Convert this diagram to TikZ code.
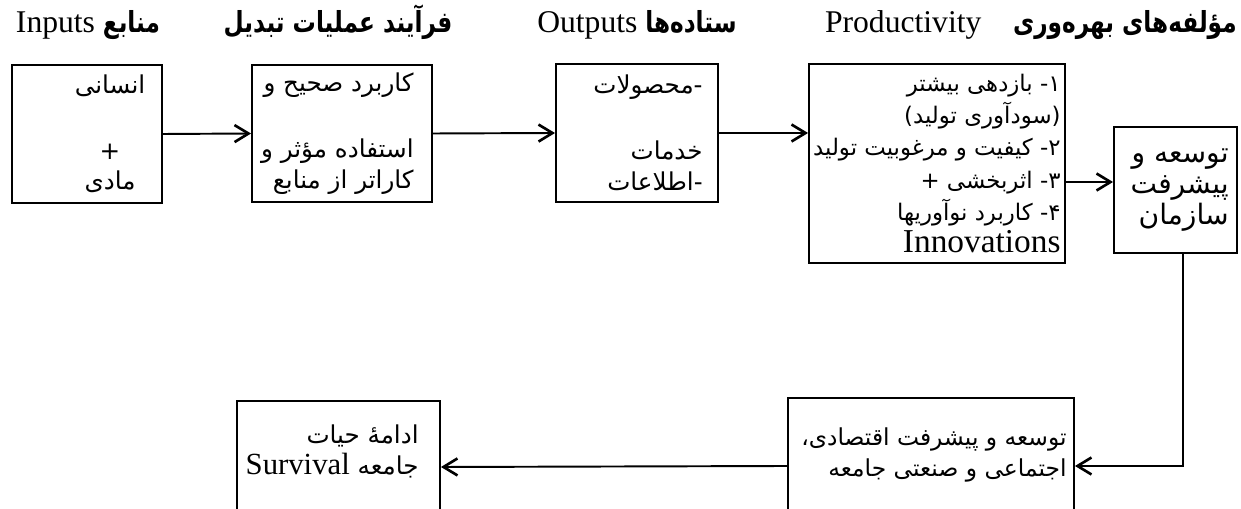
\documentclass[tikz,border=0pt]{standalone}
\usepackage{fontspec}
\setmainfont{Liberation Serif}
\newfontfamily\farsi[Script=Arabic]{DejaVu Sans}
\newfontfamily\farsihead[Script=Arabic, FakeStretch=0.8]{DejaVu Sans Bold}
\TeXXeTstate=1
\usetikzlibrary{arrows.meta,positioning}
\newcommand{\rl}[1]{\beginR #1\endR}
\newcommand{\hfa}[1]{{\farsihead\fontsize{16.5}{18}\selectfont #1}}

\begin{document}
\begin{tikzpicture}[x=0.02cm, y=-0.02cm,
  box/.style={draw, line width=1.1pt, inner sep=0pt},
  body/.style={inner sep=0pt, align=right, font=\farsi\fontsize{14}{17.5}\selectfont},
  head/.style={inner sep=0pt, anchor=base, font=\fontsize{18}{20}\selectfont},
  conn/.style={line width=1.1pt, -{Straight Barb[length=0.28cm, width=0.34cm, line width=1.5pt]}}]
\clip (0,0) rectangle (1241,509);
% headings
\node[head] (h1) at (88,33) {\rl{\hfa{منابع} \beginL Inputs\endL}};
\node[head] (h2) at (338,33) {\rl{\hfa{فرآیند عملیات تبدیل}}};
\node[head] (h3) at (637,33) {\rl{\hfa{ستاده‌ها} \beginL Outputs\endL}};
\node[head, anchor=base east] (h4) at (1237,33) {\rl{\hfa{مؤلفه‌های بهره‌وری}\quad\beginL Productivity\endL}};
% boxes
\node[box, minimum width=3cm, minimum height=2.76cm] (inp) at (87,134) {};
\node[box, minimum width=3.6cm, minimum height=2.74cm] (proc) at (342,133.5) {};
\node[box, minimum width=3.24cm, minimum height=2.76cm] (outp) at (637,133) {};
\node[box, minimum width=5.12cm, minimum height=3.98cm] (prod) at (937,163.5) {};
\node[box, minimum width=2.46cm, minimum height=2.52cm] (org) at (1175.5,190) {};
\node[box, minimum width=5.72cm, minimum height=2.28cm] (soc) at (931,455) {};
\node[box, minimum width=4.06cm, minimum height=2.24cm] (surv) at (338.5,457) {};
% box texts
\node[body, align=center] (inpT) at ([xshift=0.46cm]inp.center) {\rl{انسانی}\\[0.7cm] +\\ \rl{مادی}};
\node[body, anchor=east] (procT) at ([xshift=-0.38cm]proc.east) {\rl{کاربرد صحیح و}\\[0.7cm] \rl{استفاده مؤثر و}\\ \rl{کاراتر از منابع}};
\node[body, anchor=east] (outpT) at ([xshift=-0.32cm]outp.east) {\rl{-محصولات}\\[0.7cm] \rl{خدمات}\\ \rl{-اطلاعات}};
\node[body, anchor=east, font=\farsi\fontsize{13}{18.3}\selectfont] (prodT) at ([xshift=-0.1cm]prod.east) {\rl{۱- بازدهی بیشتر}\\ \rl{(سودآوری تولید)}\\ \rl{۲- کیفیت و مرغوبیت تولید}\\ \rl{۳- اثربخشی +}\\ \rl{۴- کاربرد نوآوریها}\\ {\rmfamily\fontsize{19}{18}\selectfont Innovations}};
\node[body, anchor=east, font=\farsi\fontsize{16}{17.5}\selectfont] (orgT) at ([xshift=-0.18cm]org.east) {\rl{توسعه و}\\ \rl{پیشرفت}\\ \rl{سازمان}};
\node[body, anchor=east, font=\farsi\fontsize{13.3}{17.5}\selectfont] (socT) at ([xshift=-0.16cm]soc.east) {\rl{توسعه و پیشرفت اقتصادی،}\\ \rl{اجتماعی و صنعتی جامعه}};
\node[body, anchor=east] (survT) at ([xshift=-0.44cm, yshift=0.11cm]surv.east) {\rl{ادامهٔ حیات}\\ \rl{جامعه \beginL{\rmfamily\fontsize{17.5}{18}\selectfont Survival}\endL}};
% connectors
\draw[conn] (inp.east) -- (proc.west);
\draw[conn] (proc.east) -- (outp.west);
\draw[conn] (outp.east) -- (outp.east -| prod.west);
\draw[conn] ([yshift=-0.37cm]prod.east) -- ([yshift=0.16cm]org.west);
\draw[conn] ([xshift=0.15cm]org.south) |- ([yshift=-0.22cm]soc.east);
\draw[conn] ([yshift=-0.22cm]soc.west) -- ([yshift=-0.2cm]surv.east);
\end{tikzpicture}
\end{document}
